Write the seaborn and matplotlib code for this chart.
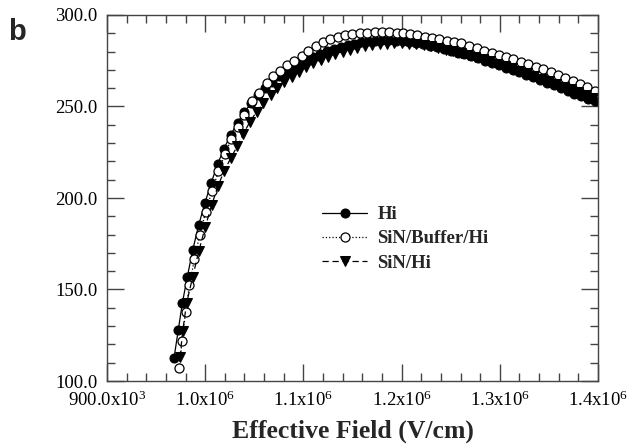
import matplotlib
matplotlib.use("Agg")
import matplotlib.pyplot as plt
import seaborn as sns
from matplotlib.ticker import MultipleLocator, FixedLocator, FixedFormatter

# ---- data (Effective field in V/cm, mobility) ----
hi_x = [968.2e3, 972.6e3, 976.7e3, 981.8e3, 987.3e3, 993.4e3, 999.8e3, 1005.9e3, 1012.7e3, 1019.1e3,
        1026e3, 1033e3, 1040e3, 1047e3, 1054e3, 1061e3, 1068e3, 1075e3, 1082e3, 1089e3,
        1096e3, 1103e3, 1110e3, 1117e3, 1124e3, 1131e3, 1138e3, 1145e3, 1152e3, 1159e3,
        1166e3, 1173e3, 1180e3, 1187e3, 1194e3, 1201e3, 1208e3, 1215e3, 1222e3, 1229e3,
        1236e3, 1243e3, 1250e3, 1257e3, 1264e3, 1271e3, 1278e3, 1285e3, 1292e3, 1299e3,
        1306e3, 1313e3, 1320e3, 1327e3, 1334e3, 1341e3, 1348e3, 1355e3, 1362e3, 1369e3,
        1376e3, 1383e3, 1390e3, 1397e3]
hi_y = [112.4, 127.9, 142.5, 157.0, 171.6, 185.3, 197.4, 208.0, 218.5, 227.0,
        234.5, 241.2, 247.0, 252.0, 256.3, 260.0, 263.4, 266.4, 269.1, 271.5,
        273.7, 275.6, 277.3, 278.8, 280.2, 281.4, 282.5, 283.4, 284.3, 285.0,
        285.6, 286.0, 286.2, 286.2, 286.0, 285.7, 285.2, 284.6, 283.9, 283.1,
        282.3, 281.4, 280.5, 279.5, 278.5, 277.4, 276.3, 275.1, 273.9, 272.6,
        271.3, 270.0, 268.7, 267.3, 265.9, 264.5, 263.1, 261.6, 260.1, 258.6,
        257.1, 255.6, 254.2, 252.8]

buf_x = [973.5e3, 976.5e3, 980e3, 984e3, 989e3, 994.5e3, 1000.5e3, 1007e3, 1013.5e3, 1020e3,
         1026.5e3, 1033e3, 1040e3, 1048e3, 1055.1e3, 1062.6e3, 1069.4e3, 1076.2e3, 1083.6e3, 1090.8e3,
         1098.3e3, 1105.1e3, 1112.5e3, 1120.3e3, 1127.1e3, 1135e3, 1142.4e3, 1149.8e3, 1157.7e3, 1165.1e3,
         1172.6e3, 1180e3, 1187.5e3, 1195e3, 1201.8e3, 1208.6e3, 1216e3, 1223.8e3, 1231e3, 1238.4e3,
         1246e3, 1253.4e3, 1260.9e3, 1268.9e3, 1276.4e3, 1283.9e3, 1291.7e3, 1298.9e3, 1306.3e3, 1313.7e3,
         1321.3e3, 1329e3, 1336.9e3, 1344.3e3, 1351.8e3, 1359.3e3, 1366.7e3, 1374.2e3, 1381.7e3, 1389.1e3,
         1396.6e3]
buf_y = [107.0, 122.0, 137.5, 152.5, 166.5, 180.0, 192.5, 204.0, 214.5, 224.0,
         232.0, 239.0, 245.5, 253.2, 257.3, 262.7, 266.4, 269.6, 272.6, 275.1,
         277.7, 280.6, 283.2, 285.4, 286.7, 288.1, 288.9, 289.4, 290.0, 290.3,
         290.5, 290.7, 290.5, 290.3, 290.0, 289.4, 288.9, 288.1, 287.4, 286.9,
         285.9, 285.2, 284.5, 283.3, 281.8, 280.5, 279.4, 278.3, 277.2, 276.0,
         274.5, 273.1, 271.8, 270.3, 268.9, 267.4, 265.7, 264.1, 262.3, 260.5,
         258.6]

sin_x = [974.3e3, 977.1e3, 981e3, 987.3e3, 993.5e3, 1000e3, 1006.5e3, 1013e3, 1019.5e3, 1026e3,
         1032.7e3, 1038.8e3, 1045.6e3, 1052.4e3, 1059.2e3, 1066.7e3, 1073.4e3, 1080.5e3, 1088.1e3, 1095.2e3,
         1102.6e3, 1110.1e3, 1117.5e3, 1125e3, 1132.5e3, 1140e3, 1147.5e3, 1155e3, 1162.5e3, 1170e3,
         1177.5e3, 1185e3, 1192.5e3, 1200e3, 1207.5e3, 1215e3, 1222.5e3, 1230e3, 1237.5e3, 1245e3,
         1252.5e3, 1260e3, 1267.5e3, 1275e3, 1282.5e3, 1290e3, 1297.5e3, 1305e3, 1312.5e3, 1320e3,
         1327.5e3, 1335e3, 1342.5e3, 1350e3, 1357.5e3, 1365e3, 1372.5e3, 1380e3, 1387.5e3, 1395e3]
sin_y = [112.9, 127.3, 142.4, 157.0, 171.0, 184.0, 196.0, 206.5, 215.0, 221.7,
         228.4, 235.0, 241.7, 247.2, 251.8, 256.3, 260.0, 263.6, 266.3, 269.0,
         271.4, 273.6, 275.5, 277.2, 278.7, 280.0, 281.1, 282.1, 282.9, 283.6,
         284.1, 284.4, 284.6, 284.6, 284.4, 284.0, 283.5, 282.8, 282.0, 281.1,
         280.1, 279.0, 278.0, 276.9, 275.8, 274.6, 273.4, 272.1, 270.8, 269.5,
         268.1, 266.7, 265.3, 263.8, 262.3, 260.8, 259.3, 257.8, 256.3, 254.8]

series_labels = ["Hi", "SiN/Buffer/Hi", "SiN/Hi"]
x_ticks = [900e3, 1.0e6, 1.1e6, 1.2e6, 1.3e6, 1.4e6]
x_tick_labels = [r"900.0x10$^{3}$", r"1.0x10$^{6}$", r"1.1x10$^{6}$",
                 r"1.2x10$^{6}$", r"1.3x10$^{6}$", r"1.4x10$^{6}$"]
y_ticks = [100, 150, 200, 250, 300]
x_label = "Effective Field (V/cm)"
panel_letter = "b"

# ---- style ----
sns.set_theme(style="ticks")
plt.rcParams["font.family"] = ["Liberation Serif", "DejaVu Serif"]
plt.rcParams["mathtext.fontset"] = "custom"
plt.rcParams["mathtext.rm"] = "Liberation Serif"
plt.rcParams["mathtext.it"] = "Liberation Serif:italic"
plt.rcParams["mathtext.bf"] = "Liberation Serif:bold"

fig = plt.figure(figsize=(6.43, 4.48), dpi=100)
ax = fig.add_axes([107/643, 1 - 381/448, (598-107)/643, (381-15)/448])

ms = 6.5
sns.lineplot(x=hi_x, y=hi_y, ax=ax, sort=False, estimator=None, color="black",
             linestyle="-", linewidth=0.9, marker="o", markersize=ms,
             markerfacecolor="black", markeredgecolor="black", label=series_labels[0])
sns.lineplot(x=buf_x, y=buf_y, ax=ax, sort=False, estimator=None, color="black",
             linestyle=":", linewidth=0.9, marker="o", markersize=ms,
             markerfacecolor="white", markeredgecolor="black", markeredgewidth=0.9,
             label=series_labels[1])
sns.lineplot(x=sin_x, y=sin_y, ax=ax, sort=False, estimator=None, color="black",
             linestyle=(0, (5, 3)), linewidth=0.9, marker="v", markersize=ms + 0.5,
             markerfacecolor="black", markeredgecolor="black", label=series_labels[2])

ax.set_xlim(900e3, 1.4e6)
ax.set_ylim(100, 300)
ax.xaxis.set_major_locator(FixedLocator(x_ticks))
ax.xaxis.set_major_formatter(FixedFormatter(x_tick_labels))
ax.xaxis.set_minor_locator(MultipleLocator(20e3))
ax.yaxis.set_major_locator(FixedLocator(y_ticks))
ax.set_yticklabels([f"{v:.1f}" for v in y_ticks])
ax.yaxis.set_minor_locator(MultipleLocator(10))

for s in ax.spines.values():
    s.set_visible(True)
    s.set_color("#444444")
    s.set_linewidth(1.0)
ax.tick_params(which="both", direction="in", top=True, right=True,
               color="#444444", width=1.0)
ax.tick_params(which="major", length=12, labelsize=13.5, pad=7, labelcolor="black")
ax.tick_params(which="minor", length=5.5)
ax.set_xlabel(x_label, fontsize=18.5, fontweight="bold", labelpad=7)
ax.set_ylabel("")

leg = ax.legend(loc="upper left", bbox_to_anchor=(322/643, 1 - 206/448),
                bbox_transform=fig.transFigure, frameon=False,
                prop={"family": "Liberation Serif", "weight": "bold", "size": 13.5},
                handlelength=2.4, handletextpad=0.55, labelspacing=0.38, borderpad=0,
                borderaxespad=0)

fig.text(8/643, 1 - 40/448, panel_letter, fontsize=21, fontweight="bold",
         family="Liberation Sans", ha="left", va="baseline")

fig.savefig("out.png", dpi=100, facecolor="white")
